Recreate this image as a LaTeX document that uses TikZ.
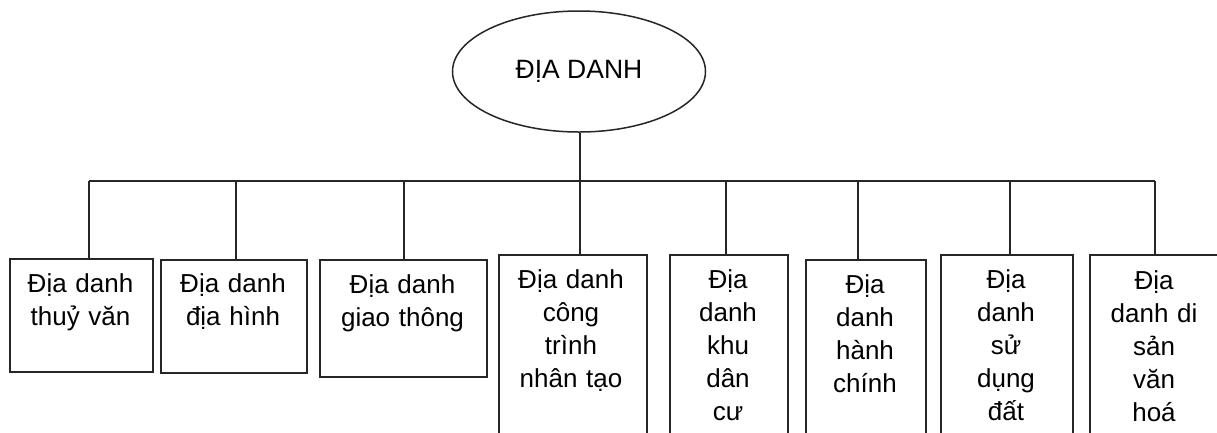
\documentclass[tikz,border=0pt]{standalone}
\usepackage{fontspec}
\setmainfont{Liberation Sans}
\usetikzlibrary{shapes.geometric}
\tikzset{
  box/.style={draw=black!85, line width=1.6pt, rectangle, inner sep=0pt, anchor=north west},
  txt/.style={text width=150pt, align=center, inner sep=0pt, anchor=base, font=\fontsize{26pt}{33pt}\selectfont},
  conn/.style={draw=black!85, line width=1.6pt},
}
\begin{document}
\begin{tikzpicture}[x=1pt,y=-1pt]
\useasboundingbox (0,0) rectangle (1217,432);
\clip (0,0) rectangle (1217,432);
\node[ellipse, draw=black!85, line width=1.5pt, minimum width=253pt, minimum height=121pt, inner sep=0pt,
      font=\fontsize{26.5pt}{30pt}\selectfont] (root) at (579,71.5) {ĐỊA DANH};

% boxes
\node[box, minimum width=143pt, minimum height=113pt] (B1) at (9,258) {};
\node[box, minimum width=146pt, minimum height=113pt] (B2) at (160,259) {};
\node[box, minimum width=167pt, minimum height=117pt] (B3) at (319,259) {};
\node[box, minimum width=148pt, minimum height=191pt] (B4) at (498,254) {};
\node[box, minimum width=118pt, minimum height=191pt] (B5) at (669,254) {};
\node[box, minimum width=120pt, minimum height=186pt] (B6) at (805,259) {};
\node[box, minimum width=132pt, minimum height=191pt] (B7) at (940,254) {};
\node[box, minimum width=131pt, minimum height=191pt] (B8) at (1089,254) {};

% texts
\node[txt] (T1) at (80.5,292) {Địa danh\\thuỷ văn};
\node[txt] (T2) at (233,292.5) {Địa danh\\địa hình};
\node[txt] (T3) at (402.5,293.3) {Địa danh\\giao thông};
\node[txt] (T4) at (571,288.3) {Địa danh\\công\\trình\\nhân tạo};
\node[txt] (T5) at (728,288.3) {Địa\\danh\\khu\\dân\\cư};
\node[txt] (T6) at (865,293.3) {Địa\\danh\\hành\\chính};
\node[txt] (T7) at (1006,288.3) {Địa\\danh\\sử\\dụng\\đất};
\node[txt] (T8) at (1154,289) {Địa\\danh di\\sản\\văn\\hoá};

% bar coordinates
\coordinate (c1) at (89,181);
\coordinate (c2) at (236,181);
\coordinate (c3) at (404,181);
\coordinate (c4) at (580,181);
\coordinate (c5) at (726,181);
\coordinate (c6) at (858,181);
\coordinate (c7) at (1010,181);
\coordinate (c8) at (1155,181);

\draw[conn] (c1) -- (c8);
\draw[conn] (root.south -| c4) -- (c4);
\draw[conn] (c1) -- (c1 |- B1.north);
\draw[conn] (c2) -- (c2 |- B2.north);
\draw[conn] (c3) -- (c3 |- B3.north);
\draw[conn] (c4) -- (c4 |- B4.north);
\draw[conn] (c5) -- (c5 |- B5.north);
\draw[conn] (c6) -- (c6 |- B6.north);
\draw[conn] (c7) -- (c7 |- B7.north);
\draw[conn] (c8) -- (c8 |- B8.north);
\end{tikzpicture}
\end{document}
